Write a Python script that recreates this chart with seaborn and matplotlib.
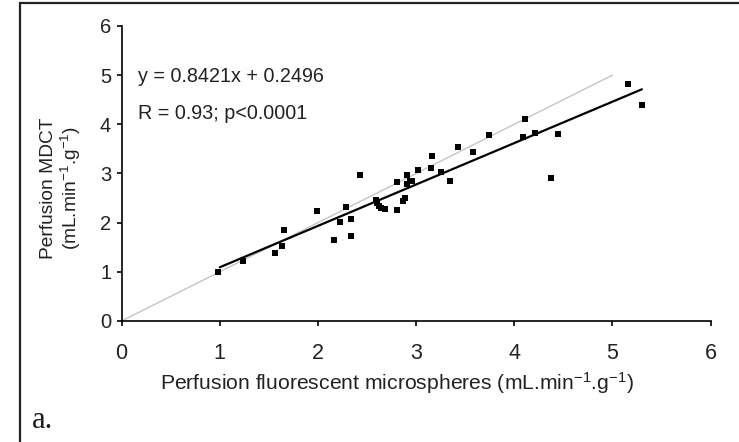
import numpy as np
import pandas as pd
import matplotlib
matplotlib.use("Agg")
import matplotlib.pyplot as plt
import seaborn as sns
from matplotlib.patches import Rectangle

# ---- data ----
fluo_microspheres = [0.98, 1.24, 1.56, 1.63, 1.65, 1.99, 2.16, 2.22, 2.29, 2.34,
                     2.34, 2.43, 2.59, 2.60, 2.62, 2.64, 2.68, 2.81, 2.81, 2.87,
                     2.89, 2.91, 2.91, 2.94, 2.96, 3.02, 3.15, 3.16, 3.25, 3.35,
                     3.43, 3.58, 3.74, 4.09, 4.11, 4.21, 4.37, 4.45, 5.16, 5.30]
perf_mdct = [1.00, 1.22, 1.38, 1.53, 1.85, 2.23, 1.65, 2.01, 2.32, 2.08,
             1.73, 2.97, 2.46, 2.39, 2.33, 2.30, 2.28, 2.25, 2.82, 2.45,
             2.51, 2.97, 2.79, 2.84, 2.85, 3.07, 3.11, 3.35, 3.03, 2.85,
             3.54, 3.43, 3.79, 3.74, 4.11, 3.83, 2.91, 3.80, 4.81, 4.40]
slope, intercept = 0.8421, 0.2496
fit_range = [1.0, 5.3]
identity_range = [0.0, 5.0]
ticks = [0, 1, 2, 3, 4, 5, 6]
eq_text = "y = 0.8421x + 0.2496"
r_text = "R = 0.93; p<0.0001"

df = pd.DataFrame({"x": fluo_microspheres, "y": perf_mdct})

sns.set_theme(style="ticks")
plt.rcParams["font.family"] = ["Liberation Sans", "DejaVu Sans"]
plt.rcParams["mathtext.fontset"] = "custom"
plt.rcParams["mathtext.rm"] = "Liberation Sans"
plt.rcParams["mathtext.it"] = "Liberation Sans:italic"

fig = plt.figure(figsize=(7.39, 4.42), dpi=100)
ax = fig.add_axes([0.1645, 0.2738, 0.7971, 0.6674])

# identity line (grey) and regression line (black)
ax.plot(identity_range, identity_range, color="#c4c4c4", lw=1.0, zorder=1)
fx = np.array(fit_range)
ax.plot(fx, slope * fx + intercept, color="black", lw=1.6, zorder=2)

sns.scatterplot(data=df, x="x", y="y", marker="s", s=18, color="black",
                edgecolor="black", linewidth=0, ax=ax, zorder=3)

ax.set_xlim(0, 6)
ax.set_ylim(0, 6)
ax.set_xticks(ticks)
ax.set_yticks(ticks)
ax.set_xticklabels([str(t) for t in ticks])
ax.set_yticklabels([str(t) for t in ticks])
for s in ["top", "right"]:
    ax.spines[s].set_visible(False)
for s in ["left", "bottom"]:
    ax.spines[s].set_color("black")
    ax.spines[s].set_linewidth(1.2)
ax.tick_params(axis="x", direction="out", length=3.5, width=1.2, color="black",
               labelsize=15.5, pad=12, labelcolor="#222222")
ax.tick_params(axis="y", direction="out", length=3.5, width=1.2, color="black",
               labelsize=14.5, pad=4, labelcolor="#222222")

ax.set_xlabel("Perfusion fluorescent microspheres (mL.min$\\mathregular{^{-1}}$.g$\\mathregular{^{-1}}$)",
              fontsize=15.2, color="#222222", va="center")
ax.xaxis.set_label_coords(0.467, -0.21)
ax.set_ylabel("Perfusion MDCT\n(mL.min$\\mathregular{^{-1}}$.g$\\mathregular{^{-1}}$)",
              fontsize=13.8, color="#222222", va="center", linespacing=1.08)
ax.yaxis.set_label_coords(-0.102, 0.45)

ax.text(0.17, 4.98, eq_text, fontsize=14.2, color="#222222", va="center", ha="left")
ax.text(0.17, 4.23, r_text, fontsize=14.2, color="#222222", va="center", ha="left")

# panel label and frame
fig.text(32 / 739, 1 - 420 / 442, "a.", family="Liberation Serif", fontsize=22,
         color="#1a1a1a", va="center", ha="left")
fig.patches.append(Rectangle((19.5 / 739, -0.05), 1.2, 1.05 - 3.0 / 442,
                             transform=fig.transFigure, fill=False,
                             edgecolor="#222222", linewidth=1.6))

fig.savefig("out.png", dpi=100)
